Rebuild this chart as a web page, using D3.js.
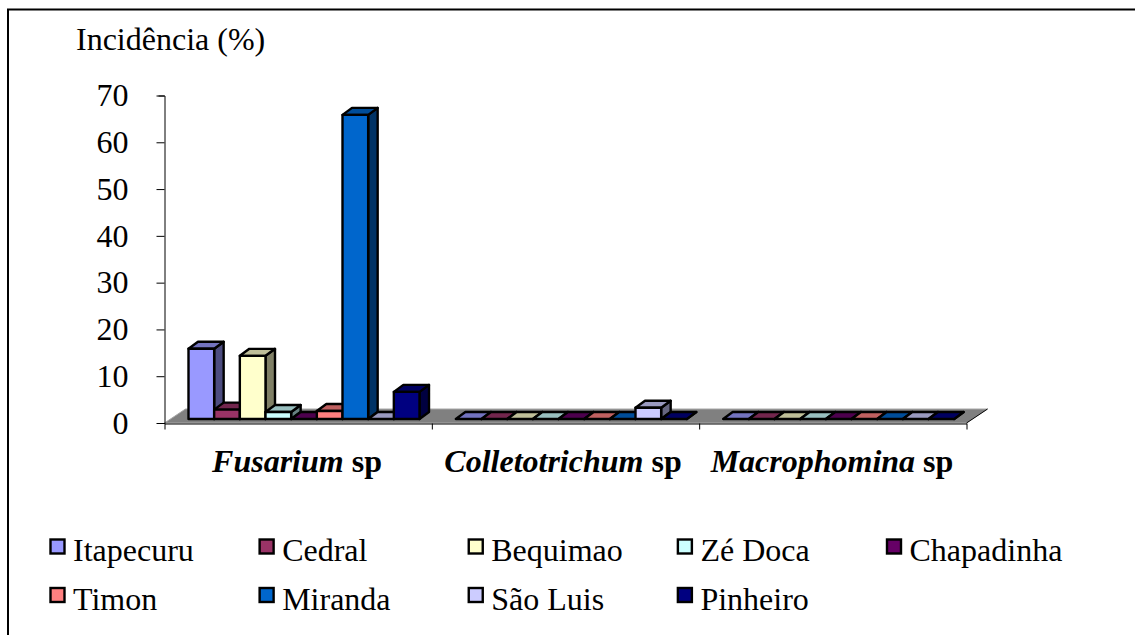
<!DOCTYPE html>
<html>
<head>
<meta charset="utf-8">
<script src="https://cdnjs.cloudflare.com/ajax/libs/d3/7.8.5/d3.min.js"></script>
<style>
body { margin: 0; background: #fff; }
svg { display: block; }
text { font-family: "Liberation Serif", serif; fill: #000; }
</style>
</head>
<body>
<svg id="chart" width="1135" height="635"></svg>
<script>
var categories = ['Fusarium', 'Colletotrichum', 'Macrophomina'];
var seriesNames = ['Itapecuru', 'Cedral', 'Bequimao', 'Zé Doca', 'Chapadinha', 'Timon', 'Miranda', 'São Luis', 'Pinheiro'];
var seriesColors = ['#9999ff', '#993366', '#ffffcc', '#ccffff', '#660066', '#ff8080', '#0066cc', '#ccccff', '#000080'];
var fusarium = [15, 2, 13.5, 1.5, 0, 1.7, 65, 0, 5.8];
var colletotrichum = [0, 0, 0, 0, 0, 0, 0, 2.4, 0];
var macrophomina = [0, 0, 0, 0, 0, 0, 0, 0, 0];
var yTicks = [0, 10, 20, 30, 40, 50, 60, 70];

var values = [fusarium, colletotrichum, macrophomina];

var svg = d3.select('#chart');

// only the top and left sides of the frame are in the picture
svg.append('path')
	.attr('d', 'M8,635V9.5H1135')
	.attr('fill', 'none').attr('stroke', '#000').attr('stroke-width', 2);

var y = d3.scaleLinear().domain([0, 70]).range([423, 95.5]);
var xCat = d3.scaleLinear().domain([0, 3]).range([164.5, 966.5]);
var xBar = d3.scaleBand().domain(d3.range(seriesNames.length)).range([0, 231]);

// depth of the floor and of each bar, in pixels
var floorDx = 21, floorDy = -14;
var barDx = 9.5, barDy = -7;
var barLift = 4;

function shade(c, k) {
	var r = d3.rgb(c);
	return d3.rgb(r.r * k, r.g * k, r.b * k).formatHex();
}

// floor
svg.append('polygon')
	.attr('points', [
		[xCat(0), y(0)],
		[xCat(3), y(0)],
		[xCat(3) + floorDx, y(0) + floorDy],
		[xCat(0) + floorDx, y(0) + floorDy]
	].join(' '))
	.attr('fill', '#808080')
	.attr('stroke', '#a6a6a6').attr('stroke-width', 1);

svg.append('path')
	.attr('d', d3.line()([[xCat(3), y(0)], [xCat(3) + floorDx, y(0) + floorDy]]))
	.attr('stroke', '#000').attr('stroke-width', 1);

// axes
var yAxis = svg.append('g')
	.attr('transform', 'translate(164.5,0)')
	.call(d3.axisLeft(y).tickValues(yTicks).tickSize(8).tickSizeOuter(6).tickPadding(28));
yAxis.selectAll('text').attr('font-size', 32).style('font-family', '"Liberation Serif", serif');

var xAxis = svg.append('g')
	.attr('transform', 'translate(0,423.5)')
	.call(d3.axisBottom(xCat).tickValues([0, 1, 2, 3]).tickSize(6).tickSizeOuter(0).tickFormat(''));

// bars, left to right so that each one covers the side of the one before
var groups = svg.append('g').selectAll('g')
	.data(values)
	.enter().append('g')
	.attr('transform', function(d, i) { return 'translate(' + (xCat(i) + 24) + ',0)'; });

var bars = groups.selectAll('g')
	.data(function(d) { return d; })
	.enter().append('g')
	.attr('stroke', '#000').attr('stroke-width', 2.4).attr('stroke-linejoin', 'round');

bars.append('polygon')
	.attr('fill', function(d, i) { return shade(seriesColors[i], 0.5); })
	.attr('points', function(d, i) {
		var x1 = xBar(i) + xBar.bandwidth(), t = y(d) - barLift, b = y(0) - barLift;
		return [[x1, t], [x1 + barDx, t + barDy], [x1 + barDx, b + barDy], [x1, b]].join(' ');
	});

bars.append('polygon')
	.attr('fill', function(d, i) { return shade(seriesColors[i], 0.75); })
	.attr('points', function(d, i) {
		var x0 = xBar(i), x1 = x0 + xBar.bandwidth(), t = y(d) - barLift;
		return [[x0, t], [x1, t], [x1 + barDx, t + barDy], [x0 + barDx, t + barDy]].join(' ');
	});

bars.append('rect')
	.attr('fill', function(d, i) { return seriesColors[i]; })
	.attr('x', function(d, i) { return xBar(i); })
	.attr('y', function(d) { return y(d) - barLift; })
	.attr('width', xBar.bandwidth())
	.attr('height', function(d) { return y(0) - y(d); });

// category labels
var catX = [297, 563, 832];
var catText = svg.append('g').selectAll('text')
	.data(categories)
	.enter().append('text')
	.attr('x', function(d, i) { return catX[i]; })
	.attr('y', 472)
	.attr('text-anchor', 'middle')
	.attr('font-size', 32)
	.attr('font-weight', 'bold');
catText.append('tspan').attr('font-style', 'italic').text(function(d) { return d; });
catText.append('tspan').text(' sp');

// title
svg.append('text')
	.attr('x', 76).attr('y', 50)
	.attr('font-size', 32)
	.text('Incidência (%)');

// legend
var legendX = d3.scalePoint().domain(d3.range(5)).range([50.5, 887]);
var legendY = d3.scalePoint().domain([0, 1]).range([539.5, 588]);

var legend = svg.append('g').selectAll('g')
	.data(seriesNames)
	.enter().append('g')
	.attr('transform', function(d, i) { return 'translate(' + legendX(i % 5) + ',' + legendY(Math.floor(i / 5)) + ')'; });

legend.append('rect')
	.attr('width', 14).attr('height', 14)
	.attr('fill', function(d, i) { return seriesColors[i]; })
	.attr('stroke', '#000').attr('stroke-width', 2.4);

legend.append('text')
	.attr('x', 22.5).attr('y', 21.5)
	.attr('font-size', 32)
	.text(function(d) { return d; });
</script>
</body>
</html>
